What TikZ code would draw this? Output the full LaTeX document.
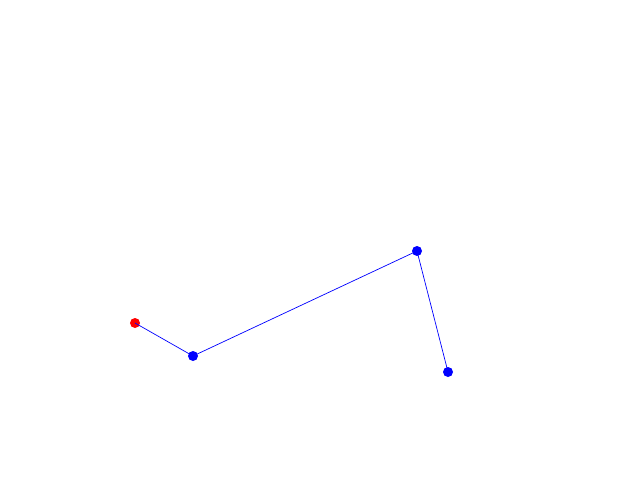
\documentclass[tikz,border=0pt]{standalone}
\usetikzlibrary{positioning}

\begin{document}
\begin{tikzpicture}[x=0.025cm, y=-0.025cm, dot/.style={circle,fill=blue,inner sep=0pt,minimum size=0.25cm},
start/.style={dot,fill=red}]

\useasboundingbox (0,0) rectangle (640,480);

%points
\node[start] (p0) at (135,323) {};
\node[dot] (p1) at (193,356) {};
\node[dot] (p2) at (417,251) {};
\node[dot] (p3) at (448,372) {};

%path
\draw[blue, line width=0.5pt] (p0.center) -- (p1.center) -- (p2.center) -- (p3.center);
\end{tikzpicture}
\end{document}
